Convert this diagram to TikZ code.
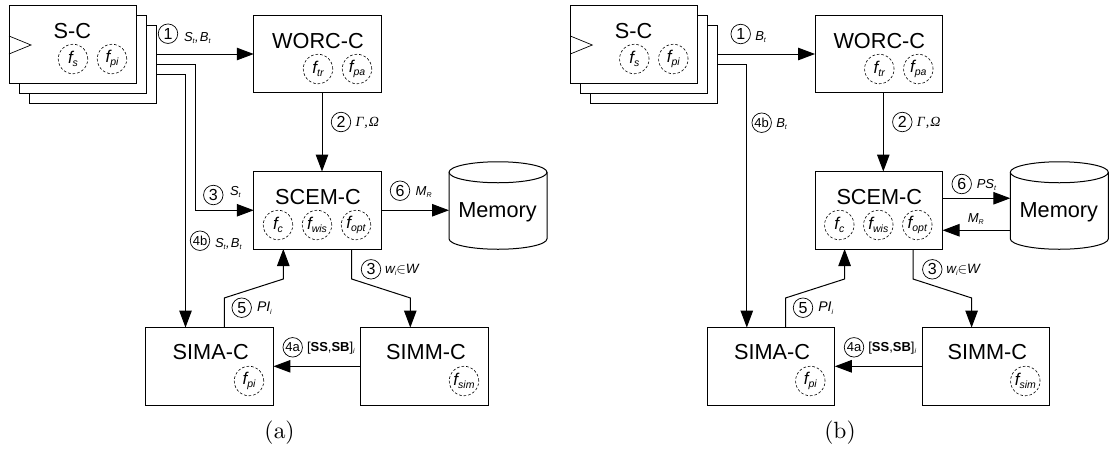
\documentclass[tikz,border=0pt]{standalone}
\usepackage{fontspec}
\setmainfont{Liberation Sans}
\font\capf=cmr10 at 23.5pt
\newfontfamily\greekfont{Liberation Serif}
\usetikzlibrary{arrows.meta,calc}
\newcommand{\fn}[2]{{\fontsize{17}{17}\selectfont\itshape f\raisebox{-3.5pt}{\fontsize{10.5}{11}\selectfont #2}}}
\newcommand{\tl}[2]{{\fontsize{13}{14}\selectfont\itshape #1\raisebox{-2pt}{\fontsize{7}{8}\selectfont #2}}}
\newcommand{\tc}{{\fontsize{13}{14}\selectfont\itshape\hspace{.6pt},\hspace{1pt}}}
\tikzset{
  every node/.style={inner sep=0pt,outer sep=0pt},
  box/.style={draw=black,fill=white,line width=1pt,minimum width=127.5pt,minimum height=77.5pt},
  title/.style={font=\fontsize{21.7}{24}\selectfont},
  fnode/.style={draw=black,circle,dash pattern=on 2.6pt off 2pt,line width=.6pt,minimum size=29.5pt},
  num/.style={draw=black,circle,line width=.7pt,minimum size=19.5pt,font=\fontsize{16}{17}\selectfont},
  numb/.style={draw=black,circle,line width=.7pt,minimum size=19.5pt,font=\fontsize{13}{14}\selectfont},
  tlab/.style={anchor=west},
  arr/.style={draw=black,line width=1pt,-{Triangle[length=17pt,width=12.5pt]}},
  captext/.style={font=\capf},
  memshape/.style={minimum width=98pt,minimum height=87.5pt}
}
\newcommand{\common}[1]{%
  \node[box,minimum width=127pt,minimum height=78pt] (#1s3) at (92.5,64) {};
  \node[box,minimum width=127pt,minimum height=78pt] (#1s2) at (82.5,54) {};
  \node[box,minimum width=127pt,minimum height=78pt] (#1s1) at (72.5,44.25) {};
  \draw[line width=.7pt] (#1s1.west |- 0,36) -- (31,45) -- (#1s1.west |- 0,54);
  \node[title] (#1st) at (72.3,31) {S-C};
  \node[fnode] (#1fs) at (73,59) {\fn{f}{s}};
  \node[fnode] (#1fp) at (112,59) {\fn{f}{pi}};
  \node[box] (#1wc) at (317.5,54) {};
  \node[title] (#1wt) at (318,41) {WORC-C};
  \node[fnode] (#1ftr) at (318,69) {\fn{f}{tr}};
  \node[fnode] (#1fpa) at (357,69) {\fn{f}{pa}};
  \node[box] (#1sc) at (317.5,210.25) {};
  \node[title] (#1sct) at (318,197) {SCEM-C};
  \node[fnode] (#1fc) at (278,225) {\fn{f}{c}};
  \node[fnode] (#1fw) at (317,225) {\fn{f}{wis}};
  \node[fnode] (#1fo) at (356,225) {\fn{f}{opt}};
  \node[box] (#1sa) at (209.7,366.3) {};
  \node[title] (#1sat) at (210.7,352) {SIMA-C};
  \node[fnode] (#1fpi) at (249,381) {\fn{f}{pi}};
  \node[box] (#1sm) at (424.7,366.3) {};
  \node[title] (#1smt) at (426,352) {SIMM-C};
  \node[fnode] (#1fsi) at (464,381) {\fn{f}{sim}};
  \node[memshape] (#1me) at (498,205.5) {};
  \draw[line width=1pt,fill=white] (#1me.north west) ++(0,10.5)
     arc[start angle=180,end angle=0,x radius=49pt,y radius=10.5pt]
     -- ++(0,66.5) arc[start angle=0,end angle=-180,x radius=49pt,y radius=10.5pt] -- cycle;
  \draw[line width=1pt] (#1me.north west) ++(0,10.5) arc[start angle=180,end angle=360,x radius=49pt,y radius=10.5pt];
  \node[title] (#1met) at (497.5,212.5) {Memory};
  \draw[arr] (#1s3.east |- #1wc.west) -- (#1wc.west);
  \draw[arr] ([xshift=4.5pt]#1wc.south) -- ([xshift=4.5pt]#1wc.south |- #1sc.north);
  \draw[arr] (#1sm.west) -- (#1sa.east);
  \draw[arr] ([xshift=14.6pt]#1sa.north) -- ++(0,-29.6) -- ($(#1sc.south)+(-34.2pt,-30pt)$) -- ($(#1sc.south)+(-34.2pt,0pt)$);
  \draw[arr] ([xshift=34.2pt]#1sc.south) -- ++(0,30) -- ($(#1sm.north)+(-14.4pt,29.6pt)$) -- ($(#1sm.north)+(-14.4pt,0pt)$);
  \node[num] (#1n2) at (341,122) {2};
  \node[tlab] (#1l2) at (355.5,122.5) {\fontsize{14}{15}\selectfont\greekfont\itshape Γ\hspace{1pt},\hspace{1pt}Ω};
  \node[num] (#1n3b) at (371,269.3) {3};
  \node[tlab] (#1l3b) at (385,269.5) {\fontsize{13.5}{14}\selectfont\itshape w\raisebox{-2pt}{\fontsize{7}{8}\selectfont i}$\in$W};
  \node[num] (#1n5) at (241.7,307.7) {5};
  \node[tlab] (#1l5) at (257,308) {\fontsize{14}{14}\selectfont\itshape PI\raisebox{-2.5pt}{\fontsize{7}{8}\selectfont i}};
  \node[numb] (#1n4a) at (292.7,347.3) {4a};
  \node[tlab] (#1l4a) at (307,348) {\fontsize{13}{14}\selectfont [\textbf{SS},\textbf{SB}]\raisebox{-2pt}{\fontsize{7}{8}\selectfont\itshape i}};
}
\begin{document}
\begin{tikzpicture}[x=1pt,y=-1pt]
\useasboundingbox (0,0) rectangle (1110,451);
\begin{scope}
  \common{a}
  \draw[arr] ([yshift=-.5pt]as3.east) -- ++(39,0) |- (asc.west);
  \draw[arr] ([yshift=-10.7pt]as3.east) -- ++(29.5,0) -- ([xshift=-24.2pt]asa.north);
  \draw[arr] (asc.east) -- (asc.east -| ame.west);
  \node[num] (an1) at (168,33.7) {1};
  \node[tlab] (al1) at (184,37.5) {\tl{S}{t}\tc\tl{B}{t}};
  \node[num] (an3) at (213.3,195) {3};
  \node[tlab] (al3) at (230,192) {\tl{S}{t}};
  \node[num] (an6) at (400,190.7) {6};
  \node[tlab] (al6) at (415.7,192) {\tl{M}{R}};
  \node[numb] (an4b) at (200,240.7) {4b};
  \node[tlab] (al4b) at (215,244) {\tl{S}{t}\tc\tl{B}{t}};
  \node[captext] (acap) at (279.5,433) {(a)};
\end{scope}
\begin{scope}[xshift=561.3pt]
  \common{b}
  \draw[arr] (bs3.east) ++(0,.5) -- ++(29.5,0) -- ([xshift=-24.2pt]bsa.north);
  \draw[arr] ([yshift=12pt]bsc.east) -- ([yshift=12pt]bsc.east -| bme.west);
  \draw[arr] ([yshift=-20pt]bsc.east -| bme.west) -- ([yshift=-20pt]bsc.east);
  \node[num] (bn1) at (179.4,34) {1};
  \node[tlab] (bl1) at (194,37.5) {\tl{B}{t}};
  \node[numb] (bn4b) at (200.4,122.7) {4b};
  \node[tlab] (bl4b) at (215,124) {\tl{B}{t}};
  \node[num] (bn6) at (400.4,184) {6};
  \node[tlab] (bl6) at (415.5,185) {\tl{PS}{t}};
  \node[tlab] (bl7) at (406.5,219) {\tl{M}{R}};
  \node[captext] (bcap) at (278.7,433) {(b)};
\end{scope}
\end{tikzpicture}
\end{document}
